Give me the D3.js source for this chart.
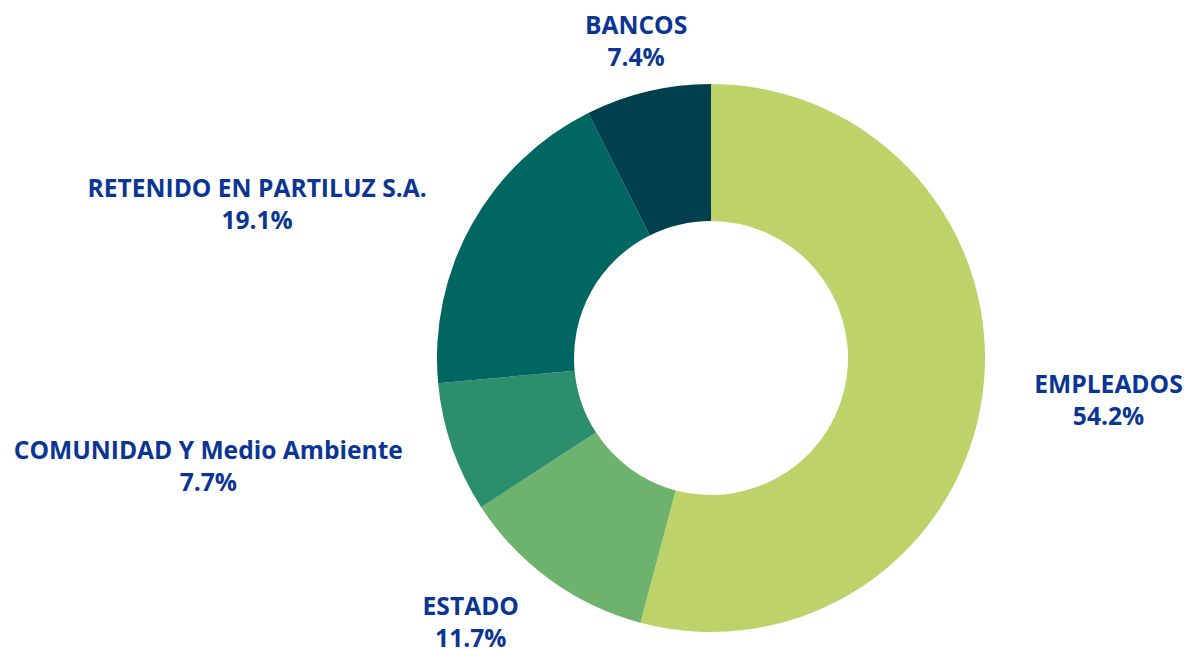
<!DOCTYPE html>
<html>
<head>
<meta charset="utf-8">
<script src="https://cdn.jsdelivr.net/npm/d3@7"></script>
<style>
  body { margin: 0; background: #fff; }
  text { font-family: "Open Sans", "Noto Sans", sans-serif; font-weight: 700; }
</style>
</head>
<body>
<script>
// Distribución del valor generado
const categorias = ["EMPLEADOS", "ESTADO", "COMUNIDAD Y Medio Ambiente", "RETENIDO EN PARTILUZ S.A.", "BANCOS"];
const valores = [54.2, 11.7, 7.7, 19.1, 7.4];
const colores = ["#bdd36a", "#6db36d", "#2b8f6e", "#006661", "#00404e"];
// ajuste manual de las etiquetas (desplazamiento desde el borde del anillo)
const etiquetaDx = [105, -67, -224, -196, -7];
const etiquetaDy = [-3, 18, 4, -18, -37];

const ancho = 1184, alto = 649;
const cx = 711, cy = 358;
const rExt = 274, rInt = 137, rEtiqueta = 295;

const svg = d3.select("body").append("svg").attr("width", ancho).attr("height", alto);

const pie = d3.pie().sort(null).value(d => d);
const arc = d3.arc().innerRadius(rInt).outerRadius(rExt);

const g = svg.append("g").attr("transform", `translate(${cx},${cy})`);
const arcos = pie(valores);

g.selectAll("path")
  .data(arcos)
  .enter().append("path")
  .attr("d", arc)
  .attr("fill", (d, i) => colores[i]);

const etiquetas = g.selectAll("text.etiqueta")
  .data(arcos)
  .enter().append("text")
  .attr("class", "etiqueta")
  .attr("text-anchor", "middle")
  .attr("fill", "#0b3593")
  .style("font-size", "24.6px")
  .attr("transform", (d, i) => {
    const a = (d.startAngle + d.endAngle) / 2;
    const x = rEtiqueta * Math.sin(a) + etiquetaDx[i];
    const y = -rEtiqueta * Math.cos(a) + etiquetaDy[i];
    return `translate(${x},${y})`;
  });

etiquetas.append("tspan").attr("x", 0).attr("y", 0).text((d, i) => categorias[i]);
etiquetas.append("tspan").attr("x", 0).attr("y", 32).text(d => d.data.toFixed(1) + "%");
</script>
</body>
</html>
